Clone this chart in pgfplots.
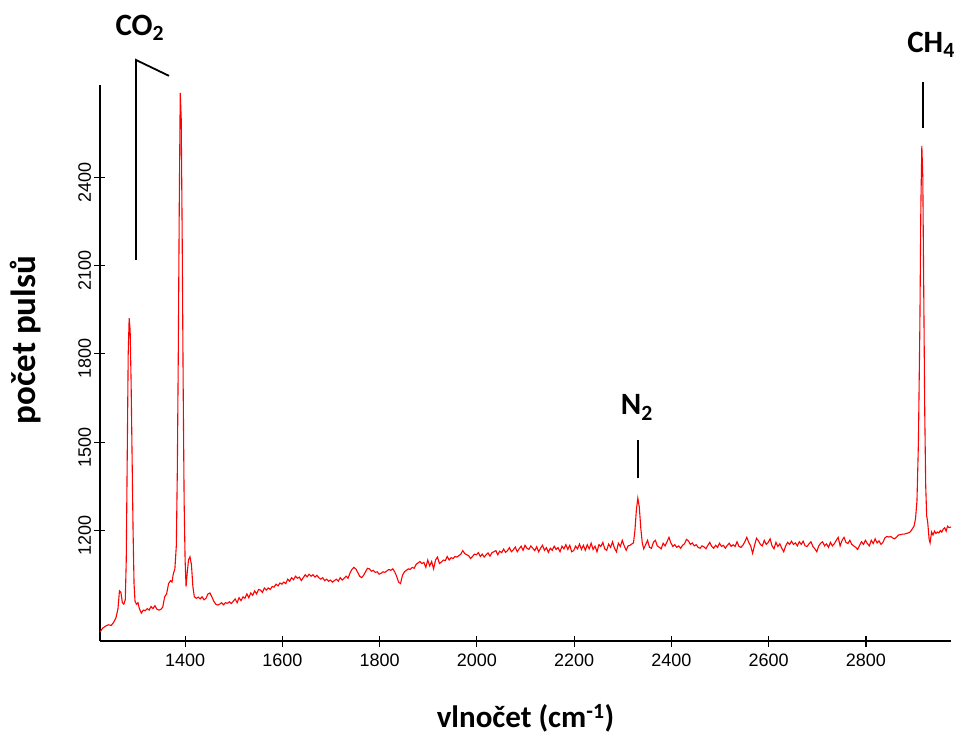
\documentclass[border=0pt]{standalone}
\usepackage{fontspec}
\setmainfont{Carlito}
\newfontfamily\arialfont{Liberation Sans}
\usepackage{pgfplots}
\pgfplotsset{compat=1.18}
\usetikzlibrary{calc}
\pgfplotstableread{
w v
1225 855
1230 868
1236 875
1242 880
1248 878
1253 888
1258 905
1262 935
1265 995
1268 990
1271 955
1274 950
1277 965
1279 1100
1281 1450
1283 1800
1285 1921
1287 1880
1289 1700
1291 1450
1293 1200
1295 1020
1297 960
1300 950
1303 955
1306 935
1310 920
1314 930
1318 928
1322 935
1326 930
1330 942
1334 935
1338 945
1342 933
1346 930
1350 932
1354 940
1358 975
1362 985
1366 1020
1370 1030
1373 1025
1376 1055
1379 1070
1382 1150
1384 1400
1386 1800
1388 2300
1390 2686
1392 2600
1394 2200
1396 1700
1398 1300
1400 1100
1402 1010
1404 1050
1407 1100
1410 1111
1413 1085
1416 1010
1419 975
1423 970
1427 974
1431 968
1435 975
1439 965
1443 970
1447 985
1451 988
1455 975
1459 960
1463 950
1467 947
1471 950
1475 955
1479 948
1483 955
1487 953
1491 958
1495 952
1499 960
1503 968
1507 955
1511 972
1515 962
1519 975
1523 970
1527 985
1531 972
1535 988
1539 980
1543 995
1547 985
1551 1000
1555 998
1559 990
1563 1005
1567 998
1571 1005
1575 1000
1579 1010
1583 1008
1587 1018
1591 1012
1595 1022
1599 1018
1603 1025
1607 1020
1611 1035
1615 1028
1619 1040
1623 1033
1627 1045
1631 1038
1635 1042
1639 1030
1643 1040
1647 1050
1651 1043
1655 1052
1659 1045
1663 1050
1667 1042
1671 1048
1675 1040
1679 1035
1683 1040
1687 1030
1691 1035
1695 1028
1699 1032
1703 1025
1707 1030
1711 1035
1715 1028
1719 1040
1723 1032
1727 1038
1731 1045
1735 1038
1739 1055
1743 1068
1747 1075
1751 1070
1755 1058
1759 1045
1763 1040
1767 1048
1771 1060
1775 1072
1779 1070
1783 1062
1787 1065
1791 1058
1795 1060
1799 1052
1803 1055
1807 1060
1811 1058
1815 1063
1819 1068
1823 1065
1827 1070
1831 1060
1835 1045
1839 1025
1843 1020
1847 1048
1851 1060
1855 1065
1859 1070
1863 1068
1867 1075
1871 1072
1875 1085
1879 1090
1883 1095
1887 1088
1891 1092
1895 1075
1899 1100
1903 1080
1907 1095
1911 1070
1915 1100
1919 1110
1923 1088
1927 1093
1931 1100
1935 1098
1939 1112
1943 1100
1947 1108
1951 1105
1955 1112
1959 1110
1963 1115
1967 1120
1971 1132
1975 1122
1979 1118
1983 1115
1987 1105
1991 1112
1995 1120
1999 1118
2003 1125
2007 1112
2011 1120
2015 1110
2019 1118
2023 1124
2027 1113
2031 1125
2035 1128
2039 1132
2043 1118
2047 1130
2051 1125
2055 1137
2059 1126
2063 1132
2067 1142
2071 1128
2075 1135
2079 1144
2083 1128
2087 1138
2091 1147
2095 1133
2099 1150
2103 1140
2107 1136
2111 1148
2115 1140
2119 1132
2123 1145
2127 1128
2131 1140
2135 1150
2139 1133
2143 1142
2147 1126
2151 1140
2155 1133
2159 1147
2163 1136
2167 1142
2171 1128
2175 1147
2179 1138
2183 1152
2187 1136
2191 1150
2195 1128
2199 1132
2203 1147
2207 1138
2211 1154
2215 1136
2219 1150
2223 1133
2227 1152
2231 1138
2235 1157
2239 1136
2243 1147
2247 1128
2251 1152
2255 1146
2259 1160
2263 1138
2267 1133
2271 1154
2275 1143
2279 1162
2283 1140
2287 1128
2291 1157
2295 1146
2299 1167
2303 1148
2307 1133
2311 1148
2315 1150
2319 1155
2322 1158
2325 1200
2328 1270
2331 1310
2334 1280
2337 1210
2340 1160
2343 1138
2347 1152
2351 1167
2355 1143
2359 1140
2363 1160
2367 1167
2371 1148
2375 1143
2379 1138
2383 1157
2387 1148
2391 1162
2395 1177
2399 1158
2403 1146
2407 1152
2411 1143
2415 1148
2419 1140
2423 1150
2427 1155
2431 1170
2435 1165
2439 1153
2443 1158
2447 1148
2451 1152
2455 1143
2459 1140
2463 1148
2467 1145
2471 1138
2475 1150
2479 1160
2483 1146
2487 1140
2491 1150
2495 1143
2499 1157
2503 1146
2507 1150
2511 1140
2515 1150
2519 1157
2523 1146
2527 1152
2531 1146
2535 1162
2539 1146
2543 1143
2547 1150
2551 1162
2555 1177
2559 1160
2563 1148
2567 1123
2571 1150
2575 1174
2579 1165
2583 1153
2587 1148
2591 1167
2595 1153
2599 1160
2603 1172
2607 1148
2611 1138
2615 1160
2619 1146
2623 1155
2627 1140
2631 1128
2635 1148
2639 1160
2643 1153
2647 1164
2651 1153
2655 1158
2659 1148
2663 1162
2667 1153
2671 1164
2675 1148
2679 1146
2683 1155
2687 1162
2691 1146
2695 1138
2699 1128
2703 1148
2707 1157
2711 1162
2715 1148
2719 1155
2723 1143
2727 1160
2731 1148
2735 1155
2739 1167
2743 1177
2747 1148
2751 1167
2755 1177
2759 1160
2763 1156
2767 1167
2771 1153
2775 1148
2779 1143
2783 1136
2787 1150
2791 1162
2795 1153
2799 1167
2803 1156
2807 1148
2811 1167
2815 1156
2819 1172
2823 1158
2827 1165
2831 1153
2835 1160
2839 1175
2843 1180
2847 1178
2851 1180
2855 1175
2859 1172
2863 1178
2867 1185
2871 1186
2875 1188
2879 1188
2883 1190
2887 1192
2891 1195
2895 1205
2899 1215
2902 1240
2905 1300
2908 1500
2911 1900
2913 2300
2915 2506
2917 2400
2919 2000
2921 1600
2923 1350
2925 1250
2927 1230
2930 1170
2932 1158
2935 1195
2938 1185
2941 1198
2944 1190
2947 1195
2950 1192
2953 1200
2956 1195
2959 1205
2962 1210
2965 1198
2968 1215
2971 1210
2975 1212
}\spectrum
\begin{document}
\begin{tikzpicture}
\begin{axis}[
  name=ax,
  scale only axis, width=851pt, height=556pt,
  xmin=1225, xmax=2975, ymin=825, ymax=2713,
  axis x line*=bottom, axis y line*=left,
  axis line style={line width=1.6pt, black},
  xtick={1400,1600,...,2800}, ytick={1200,1500,...,2400},
  tick align=center, major tick length=11pt,
  tick style={line width=1.2pt, black},
  /pgf/number format/assume math mode=true,
  /pgf/number format/set thousands separator={},
  ticklabel style={font=\arialfont\fontsize{18}{18}\selectfont},
  xticklabel style={yshift=-4pt},
  yticklabel style={rotate=90, anchor=south, xshift=-5pt},
  xlabel={vlnočet (cm\textsuperscript{-1})},
  xlabel style={font=\bfseries\fontsize{31}{31}\selectfont, at={(axis description cs:0.5,-0.1385)}, anchor=center},
  ylabel={počet pulsů},
  ylabel style={font=\bfseries\fontsize{35}{35}\selectfont, at={(axis description cs:-0.088,0.541)}, anchor=center},
  clip=false,
]
\addplot[red, line width=1.1pt] table[x=w, y=v] {\spectrum};
\draw[line width=1.8pt] (axis cs:1299,2119) -- (axis cs:1299,2798) -- (axis cs:1367,2744);
\draw[line width=1.8pt] (axis cs:2331,1379) -- (axis cs:2331,1508);
\draw[line width=1.8pt] (axis cs:2917,2567) -- (axis cs:2917,2723);
\node[font=\bfseries\fontsize{31}{31}\selectfont] at (axis cs:1307,2907) {CO\textsubscript{2}};
\node[font=\bfseries\fontsize{31}{31}\selectfont] at (axis cs:2329,1617) {N\textsubscript{2}};
\node[font=\bfseries\fontsize{31}{31}\selectfont] at (axis cs:2934,2849) {CH\textsubscript{4}};
\end{axis}
\pgfresetboundingbox
\path[use as bounding box] ($(ax.south west)+(-100pt,-99pt)$) rectangle ($(ax.south west)+(855pt,641pt)$);
\end{tikzpicture}
\end{document}
